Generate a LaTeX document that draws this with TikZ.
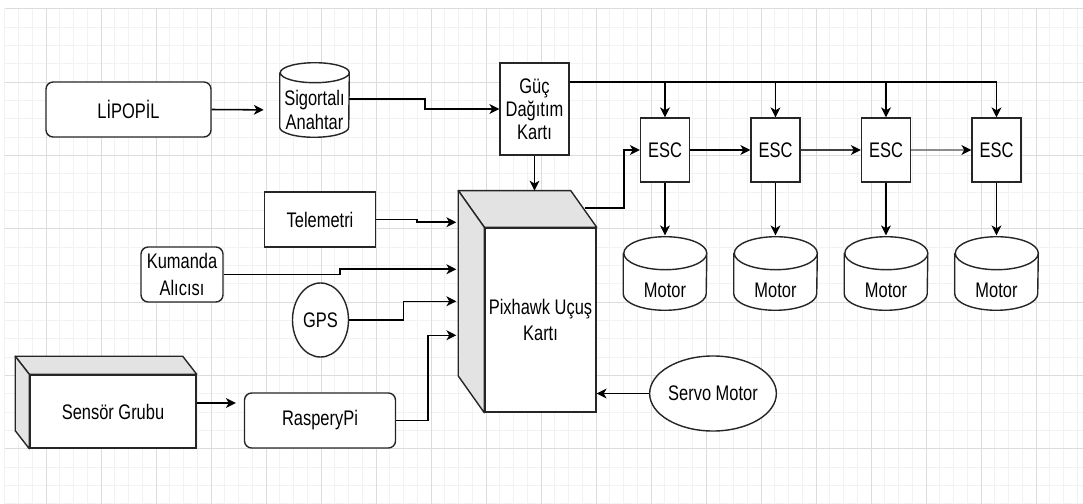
\documentclass[tikz,border=0pt]{standalone}
\usepackage{fontspec}
\setmainfont{Liberation Sans}[FakeStretch=0.78]
\usetikzlibrary{arrows.meta,calc,shapes.geometric}

\pgfdeclarelayer{grid}
\pgfdeclarelayer{drum}
\pgfsetlayers{grid,drum,main}

\definecolor{gridmajor}{HTML}{DCDCDC}
\definecolor{gridminor}{HTML}{F2F2F2}
\definecolor{facegray}{HTML}{E3E3E3}

% cylinder drawn round a body node: node, x radius, y radius (in px)
\newcommand{\drum}[3]{%
  \begin{pgfonlayer}{drum}
    \draw[line width=1pt,draw=black!85,fill=white] ([yshift=#3*0.025cm]#1.north west)
      -- ([yshift=#3*0.025cm]#1.south west)
      arc[start angle=180,end angle=360,x radius=#2*0.025cm,y radius=#3*0.025cm]
      -- ([yshift=#3*0.025cm]#1.north east)
      arc[start angle=0,end angle=180,x radius=#2*0.025cm,y radius=#3*0.025cm]
      arc[start angle=180,end angle=360,x radius=#2*0.025cm,y radius=#3*0.025cm];
  \end{pgfonlayer}}

\begin{document}
\begin{tikzpicture}[x=0.025cm,y=-0.025cm,
    box/.style={draw=black!85,line width=1pt,fill=white,inner sep=0pt,align=center,
      font=\fontsize{15}{16.5}\selectfont},
    rbox/.style={box,rounded corners=0.18cm},
    oval/.style={box,ellipse},
    body/.style={inner sep=0pt,align=center,font=\fontsize{15}{16.5}\selectfont},
    face/.style={draw=black!85,line width=1pt,fill=facegray,line join=round},
    wire/.style={line width=1pt},
    arr/.style={line width=1.1pt,-{Stealth[length=7pt,width=7pt,inset=2pt]}},
    chain/.style={line width=1.9pt,-{Stealth[length=7pt,width=7pt,inset=2pt,color=black]}}]
  \useasboundingbox (0,0) rectangle (1083,504);
  % grid
  \begin{pgfonlayer}{grid}
    \foreach \gx in {4.75,18.5,...,1083} \draw[gridminor,line width=0.5pt] (\gx,8.7) -- (\gx,504);
    \foreach \gy in {8.7,27.03,...,504} \draw[gridminor,line width=0.5pt] (4.75,\gy) -- (1083,\gy);
    \foreach \gx in {46,101,...,1083} \draw[gridmajor,line width=0.6pt] (\gx,8.7) -- (\gx,504);
    \foreach \gy in {8.7,82.03,...,504} \draw[gridmajor,line width=0.6pt] (4.75,\gy) -- (1083,\gy);
  \end{pgfonlayer}

  % power side
  \node[rbox,minimum width=4.125cm,minimum height=1.375cm] (lipo) at (128.5,109.5) {LİPOPİL};
  \node[body,minimum width=1.725cm,minimum height=1.35cm] (sig) at (314.5,110) {Sigortalı\\Anahtar};
  \drum{sig}{34.5}{10}
  \node[box,minimum width=1.725cm,minimum height=2.3cm] (guc) at (534.5,109) {Güç\\Dağıtım\\Kartı};

  % inputs
  \node[box,minimum width=2.775cm,minimum height=1.375cm] (tele) at (320,219.5) {Telemetri};
  \node[rbox,minimum width=2.05cm,minimum height=1.375cm,
        font=\fontsize{15}{19}\selectfont] (kum) at (182,274.5) {Kumanda\\Alıcısı};
  \node[oval,minimum width=1.4cm,minimum height=1.85cm] (gps) at (320.5,320) {GPS};
  \node[box,minimum width=4.15cm,minimum height=1.825cm] (sen) at (113,411.5) {Sensör Grubu};
  \draw[face] (sen.north west) -- ++(-14,-18) -- ($(sen.north east)+(-14,-18)$) -- (sen.north east) -- cycle;
  \draw[face] (sen.north west) -- ++(-14,-18) -- ($(sen.south west)+(-14,-18)$) -- (sen.south west) -- cycle;
  \node[rbox,minimum width=3.775cm,minimum height=1.375cm] (rpi) at (320,420.5) {RasperyPi};

  % flight controller
  \node[box,minimum width=2.775cm,minimum height=4.6cm,
        font=\fontsize{15}{19}\selectfont] (px) at (540.5,320) {Pixhawk Uçuş\\Kartı};
  \draw[face] (px.north west) -- ++(-26,-36.7) -- ($(px.north east)+(-26,-36.7)$) -- (px.north east) -- cycle;
  \draw[face] (px.north west) -- ++(-26,-36.7) -- ($(px.south west)+(-26,-36.7)$) -- (px.south west) -- cycle;
  \coordinate (pxtop) at ($(px.north west)+(-26,-36.7)$);
  \coordinate (pxout) at ($(px.north east)+(-12,-19)$);
  \coordinate (pin1) at ($(px.north west)+(-28,-5)$);
  \coordinate (pin2) at ($(px.north west)+(-28,42)$);
  \coordinate (pin3) at ($(px.north west)+(-28,74)$);
  \coordinate (pin4) at ($(px.north west)+(-28,108)$);
  \node[oval,minimum width=3.1cm,minimum height=1.875cm] (servo) at (713,393.5) {Servo Motor};

  % escs and motors
  \foreach \i in {1,...,4} {
    \node[box,minimum width=1.225cm,minimum height=1.6cm] (esc\i) at ({554.5+110.5*\i},150) {ESC};
    \node[body,minimum width=2.075cm,minimum height=1cm] (m\i) at ({554.5+110.5*\i},290) {Motor};
    \drum{m\i}{41.5}{16.5}
  }

  % connections
  \draw[arr,shorten >=0.4cm] (lipo.east) -- (sig.west);
  \draw[arr] ([yshift=0.275cm]sig.east) -- ++(75.5,0) |- (guc.west);
  \draw[arr] (guc.south) -- (guc.south |- pxtop);
  \coordinate (bus) at ([yshift=0.675cm]guc.east);
  \draw[wire] (bus) -- (bus -| esc4.north);
  \foreach \i in {1,...,4} {
    \draw[arr] (bus -| esc\i.north) -- (esc\i.north);
    \draw[arr] (esc\i.south) -- ([yshift=0.86cm]m\i.north);
  }
  \draw[chain] (esc1) -- (esc2);
  \draw[chain,draw=black!75] (esc2) -- (esc3);
  \draw[chain,draw=black!45] (esc3) -- (esc4);
  \draw[arr] (pxout) -- ++(39.5,0) |- (esc1.west);
  \draw[arr] (tele.east) -- ++(41,0) |- (pin1);
  \draw[arr] (kum.east) -- ++(116.5,0) |- (pin2);
  \draw[arr] (gps.east) -- ++(54.4,0) |- (pin3);
  \draw[arr] (rpi.east) -- ++(31.6,0) |- (pin4);
  \coordinate (senout) at ([yshift=0.2125cm]sen.east);
  \draw[arr,shorten >=0.2cm] (senout) -- (senout -| rpi.west);
  \draw[arr] (servo.west) -- (servo.west -| px.east);
\end{tikzpicture}
\end{document}
